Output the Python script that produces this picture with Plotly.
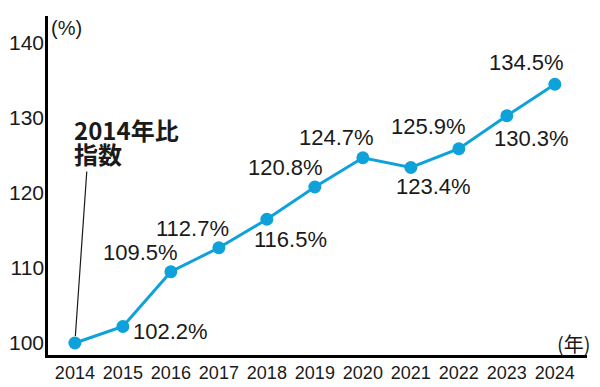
import plotly.graph_objects as go

years = [2014, 2015, 2016, 2017, 2018, 2019, 2020, 2021, 2022, 2023, 2024]
index_values = [100.0, 102.2, 109.5, 112.7, 116.5, 120.8, 124.7, 123.4, 125.9, 130.3, 134.5]
value_labels = ["", "102.2%", "109.5%", "112.7%", "116.5%", "120.8%", "124.7%",
                "123.4%", "125.9%", "130.3%", "134.5%"]
y_ticks = [100, 110, 120, 130, 140]
x_tick_labels = [str(y) for y in years]

# label offsets (pixels, right / up)
label_dx = [0, 48, -30, -26, 24, -29, -26, 23, -30, 25, -28]
label_dy = [0, -5, 19, 19, -20, 20, 20, -19, 22, -23, 22]

COLOR = "#0fa2da"
TXT = "#1a1a1a"
NUM_FONT = "Liberation Sans, Arial, sans-serif"
CJK_FONT = "Noto Sans CJK JP, Noto Sans CJK SC, sans-serif"

# the page body has an 8px default margin; lay out in reference pixels minus 8
OFF = 8
W, H = 600 - OFF, 387 - OFF
L, R, T, B = 48 - OFF, 13, 16 - OFF, 32
pw, ph = W - L - R, H - T - B


def px(x):
    return (x - OFF - L) / pw


def py(y):
    return (H - B - (y - OFF)) / ph


fig = go.Figure()
fig.add_trace(go.Scatter(
    x=years, y=index_values, mode="lines+markers",
    line=dict(color=COLOR, width=3),
    marker=dict(color=COLOR, size=13),
    cliponaxis=False, hoverinfo="skip", showlegend=False,
))

annotations = []
for yr, v, lab, dx, dy in zip(years, index_values, value_labels, label_dx, label_dy):
    if not lab:
        continue
    annotations.append(dict(
        x=yr, y=v, xref="x", yref="y", text=lab, showarrow=False,
        xanchor="center", yanchor="middle", xshift=dx, yshift=dy,
        font=dict(family=NUM_FONT, size=22, color=TXT),
    ))

# leader line to first point
annotations.append(dict(
    x=years[0], y=index_values[0], xref="x", yref="y", text="",
    showarrow=True, arrowhead=0, arrowwidth=1.2, arrowcolor=TXT,
    ax=12, ay=-173, standoff=7,
))
annotations.append(dict(
    x=px(72), y=py(129), xref="paper", yref="paper", text="<b>2014年比</b>",
    showarrow=False, xanchor="left", yanchor="middle",
    font=dict(family=CJK_FONT, size=24, color=TXT),
))
annotations.append(dict(
    x=px(72), y=py(153), xref="paper", yref="paper", text="<b>指数</b>",
    showarrow=False, xanchor="left", yanchor="middle",
    font=dict(family=CJK_FONT, size=24, color=TXT),
))
annotations.append(dict(
    x=px(49), y=py(28), xref="paper", yref="paper", text="(%)",
    showarrow=False, xanchor="left", yanchor="middle",
    font=dict(family=NUM_FONT, size=20, color=TXT),
))
annotations.append(dict(
    x=px(593), y=py(343), xref="paper", yref="paper", text="(年)",
    showarrow=False, xanchor="right", yanchor="middle",
    font=dict(family=CJK_FONT, size=20, color=TXT),
))

fig.update_layout(
    width=W, height=H,
    margin=dict(l=L, r=R, t=T, b=B, pad=0, autoexpand=False),
    paper_bgcolor="white", plot_bgcolor="white",
    annotations=annotations,
    xaxis=dict(
        range=[2013.44, 2024.67], tickvals=years, ticktext=x_tick_labels,
        showgrid=False, zeroline=False, showline=True, linecolor="black",
        linewidth=2.5, ticks="", tickangle=0, automargin=False,
        tickfont=dict(family=NUM_FONT, size=18, color=TXT),
        fixedrange=True,
    ),
    yaxis=dict(
        range=[98.4, 143.6], tickvals=y_ticks, ticktext=[str(t) for t in y_ticks],
        showgrid=False, zeroline=False, showline=True, linecolor="black",
        linewidth=2.5, ticks="", automargin=False, ticklabelstandoff=-3,
        tickfont=dict(family=NUM_FONT, size=21, color=TXT),
        fixedrange=True,
    ),
)

fig.write_html("out.html")
